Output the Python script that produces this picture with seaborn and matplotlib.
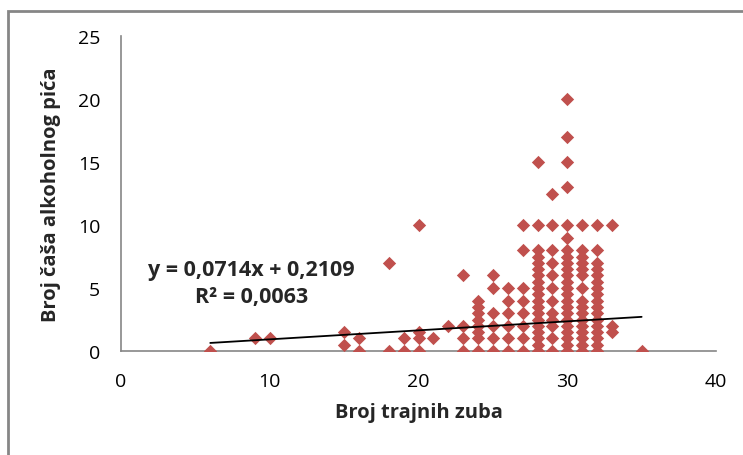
import matplotlib
matplotlib.use("Agg")
import matplotlib.pyplot as plt
from matplotlib.patches import Rectangle
import numpy as np
import pandas as pd
import seaborn as sns

# number of permanent teeth (x) and the drink counts seen at each x
teeth = [6, 9, 10, 15, 16, 18, 19, 20, 21, 22, 23, 24, 25, 26, 27,
         28, 29, 30, 31, 32, 33, 35]
drinks = [
    [0],
    [1],
    [1],
    [0.5, 1.5],
    [0, 1],
    [0, 7],
    [0, 1],
    [0, 1, 1.5, 10],
    [1],
    [2],
    [0, 1, 2, 6],
    [0, 1, 1.5, 2, 2.5, 3, 3.5, 4],
    [0, 1, 2, 3, 5, 6],
    [0, 1, 2, 3, 4, 5],
    [0, 1, 2, 3, 4, 5, 8, 10],
    [0, 0.5, 1, 1.5, 2, 2.5, 3, 3.5, 4, 4.5, 5, 5.5, 6, 6.5, 7, 7.5, 8, 10, 15],
    [0, 1, 2, 2.5, 3, 4, 5, 6, 7, 8, 10, 12.5],
    [0, 0.5, 1, 1.5, 2, 2.5, 3, 3.5, 4, 4.5, 5, 5.5, 6, 6.5, 7, 7.5, 8, 9, 10,
     13, 15, 17, 20],
    [0, 0.5, 1, 1.5, 2, 2.5, 3, 3.5, 4, 5, 6, 6.5, 7, 7.5, 8, 10],
    [0, 0.5, 1, 1.5, 2, 2.5, 3, 3.5, 4, 4.5, 5, 5.5, 6, 6.5, 7, 8, 10],
    [1.5, 2, 10],
    [0],
]

# Excel trendline as printed on the chart
slope = 0.0714
intercept = 0.2109
r_squared = 0.0063

x_ticks = [0, 10, 20, 30, 40]
y_ticks = [0, 5, 10, 15, 20, 25]

rows = [(t, d) for t, ds in zip(teeth, drinks) for d in ds]
df = pd.DataFrame(rows, columns=["teeth", "drinks"])

sns.set_style("white")
plt.rcParams["font.family"] = ["Open Sans", "DejaVu Sans"]

fig = plt.figure(figsize=(7.43, 4.56), dpi=100)
ax = fig.add_axes([121 / 743, 1 - 352 / 456, (716 - 121) / 743, (352 - 37) / 456])

grey = "#868686"

sns.scatterplot(data=df, x="teeth", y="drinks", marker="D", s=46,
                color="#C0504D", linewidth=0, ax=ax, zorder=3)

x_line = np.array([min(teeth), max(teeth)])
ax.plot(x_line, slope * x_line + intercept, color="black", lw=1.3, zorder=4)

ax.set_xlim(0, 40)
ax.set_ylim(0, 25)
ax.set_xticks(x_ticks)
ax.set_yticks(y_ticks)
ax.tick_params(axis="both", direction="out", length=6, width=1, color=grey,
               labelsize=14, colors="black")
ax.tick_params(axis="x", pad=9)
ax.tick_params(axis="y", pad=9)
for side in ["top", "right"]:
    ax.spines[side].set_visible(False)
for side in ["left", "bottom"]:
    ax.spines[side].set_color(grey)
    ax.spines[side].set_linewidth(1.2)

ax.set_xlabel("Broj trajnih zuba", fontsize=14.5, fontweight="bold", labelpad=9)
ax.set_ylabel("Broj čaša alkoholnog pića", fontsize=14.5, fontweight="bold",
              labelpad=12)

eq = f"y = {slope:.4f}x + {intercept:.4f}".replace(".", ",")
r2 = f"R² = {r_squared:.4f}".replace(".", ",")
ax.text(8.75, 5.4, eq + "\n" + r2, ha="center", va="center", fontsize=15.5,
        fontweight="bold", linespacing=1.4)

# outer chart frame (cut at right and bottom like the screenshot)
fig.add_artist(Rectangle((8 / 743, -0.1), 1.2, 0.1 + 1 - 12 / 456,
                         transform=fig.transFigure, fill=False,
                         edgecolor=grey, lw=2))

fig.savefig("out.png", dpi=100)
